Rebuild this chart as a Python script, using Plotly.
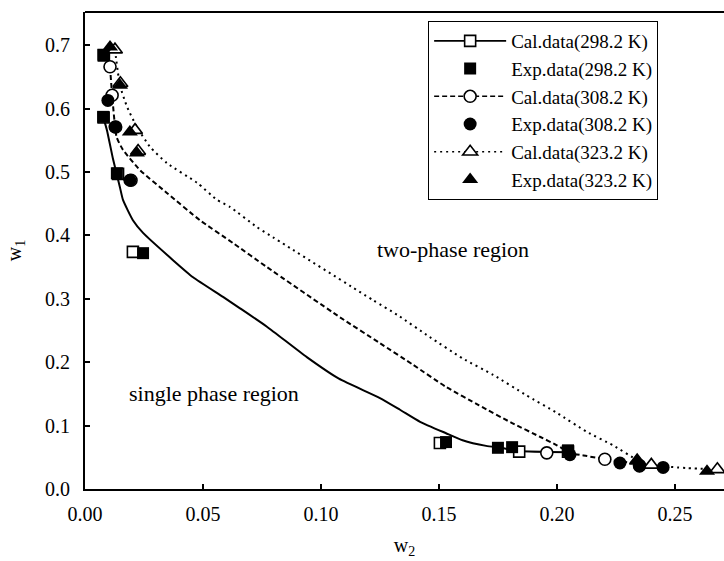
import plotly.graph_objects as go

# ---- data ----
# calculated curves (w2, w1)
cal298_x = [0.0077, 0.0093, 0.0119, 0.0148, 0.0161, 0.0203, 0.0246, 0.0373, 0.0458, 0.0585, 0.0657, 0.0771, 0.094, 0.1076, 0.125, 0.1335, 0.142, 0.153, 0.160, 0.170, 0.176, 0.184, 0.205]
cal298_y = [0.587, 0.566, 0.520, 0.476, 0.456, 0.424, 0.404, 0.361, 0.334, 0.303, 0.285, 0.256, 0.208, 0.174, 0.1435, 0.125, 0.106, 0.088, 0.077, 0.068, 0.065, 0.060, 0.058]
cal308_x = [0.0106, 0.0115, 0.0134, 0.0161, 0.0233, 0.0347, 0.0487, 0.0627, 0.0771, 0.108, 0.125, 0.139, 0.153, 0.167, 0.181, 0.193, 0.200, 0.2055, 0.2127, 0.2203, 0.234, 0.245]
cal308_y = [0.666, 0.621, 0.555, 0.535, 0.503, 0.467, 0.424, 0.388, 0.350, 0.271, 0.230, 0.196, 0.161, 0.132, 0.104, 0.082, 0.069, 0.057, 0.052, 0.047, 0.040, 0.035]
cal323_x = [0.0127, 0.0148, 0.0178, 0.022, 0.0275, 0.0347, 0.0475, 0.056, 0.0614, 0.0729, 0.0797, 0.122, 0.1326, 0.146, 0.160, 0.173, 0.187, 0.200, 0.2127, 0.2237, 0.234, 0.240, 0.255, 0.268]
cal323_y = [0.693, 0.637, 0.603, 0.571, 0.540, 0.514, 0.483, 0.456, 0.445, 0.413, 0.397, 0.298, 0.274, 0.240, 0.206, 0.180, 0.148, 0.120, 0.090, 0.069, 0.046, 0.038, 0.033, 0.031]

# calculated points (open markers)
calpt298_x = [0.0080, 0.0079, 0.0140, 0.0203, 0.1504, 0.184, 0.2047]
calpt298_y = [0.684, 0.586, 0.497, 0.374, 0.0726, 0.059, 0.059]
calpt308_x = [0.0106, 0.0115, 0.0130, 0.0195, 0.1957, 0.2203, 0.2350]
calpt308_y = [0.666, 0.621, 0.571, 0.487, 0.057, 0.047, 0.037]
calpt323_x = [0.0127, 0.0150, 0.0212, 0.0225, 0.2340, 0.2400, 0.2680]
calpt323_y = [0.693, 0.640, 0.566, 0.533, 0.045, 0.038, 0.031]

# experimental points (filled markers)
exp298_x = [0.0078, 0.0077, 0.0135, 0.0246, 0.153, 0.175, 0.181, 0.2047]
exp298_y = [0.685, 0.587, 0.498, 0.372, 0.074, 0.065, 0.066, 0.061]
exp308_x = [0.0097, 0.0127, 0.0190, 0.2055, 0.2267, 0.235, 0.245]
exp308_y = [0.613, 0.571, 0.487, 0.054, 0.041, 0.036, 0.034]
exp323_x = [0.0106, 0.0148, 0.0190, 0.0220, 0.2340, 0.2636]
exp323_y = [0.697, 0.637, 0.563, 0.530, 0.044, 0.028]

labels = ["Cal.data(298.2 K)", "Exp.data(298.2 K)", "Cal.data(308.2 K)",
          "Exp.data(308.2 K)", "Cal.data(323.2 K)", "Exp.data(323.2 K)"]

FONT = "Liberation Serif, Times New Roman, serif"
DASH298 = "solid"
DASH308 = "5px,3px"
DASH323 = "2px,4px"

fig = go.Figure()

def curve(x, y, dash):
    fig.add_trace(go.Scatter(x=x, y=y, mode="lines", showlegend=False,
                             line=dict(color="black", width=2, dash=dash,
                                       shape="spline", smoothing=0.5),
                             hoverinfo="skip"))

def openpts(x, y, sym, size):
    fig.add_trace(go.Scatter(x=x, y=y, mode="markers", showlegend=False,
                             marker=dict(symbol=sym, size=size, color="white",
                                         line=dict(color="black", width=1.6))))

def legend_cal(name, sym, size, dash):
    fig.add_trace(go.Scatter(x=[None], y=[None], mode="lines+markers", name=name,
                             line=dict(color="black", width=1.6, dash=dash),
                             marker=dict(symbol=sym, size=size, color="white",
                                         line=dict(color="black", width=1.6))))

def exppts(x, y, sym, size, name):
    fig.add_trace(go.Scatter(x=x, y=y, mode="markers", name=name,
                             marker=dict(symbol=sym, size=size, color="black",
                                         line=dict(color="black", width=0))))

# curves and open markers (no legend)
curve(cal298_x, cal298_y, DASH298)
curve(cal308_x, cal308_y, DASH308)
curve(cal323_x, cal323_y, DASH323)
openpts(calpt298_x, calpt298_y, "square", 11)
openpts(calpt308_x, calpt308_y, "circle", 12)
openpts(calpt323_x, calpt323_y, "triangle-up", 13)

# legend entries in order
legend_cal(labels[0], "square", 11, DASH298)
exppts(exp298_x, exp298_y, "square", 12, labels[1])
legend_cal(labels[2], "circle", 12, DASH308)
exppts(exp308_x, exp308_y, "circle", 13, labels[3])
legend_cal(labels[4], "triangle-up", 13, DASH323)
exppts(exp323_x, exp323_y, "triangle-up", 14, labels[5])

fig.add_annotation(x=0.156, y=0.377, text="two-phase region", showarrow=False,
                   font=dict(family=FONT, size=22, color="black"))
fig.add_annotation(x=0.0547, y=0.151, text="single phase region", showarrow=False,
                   font=dict(family=FONT, size=22, color="black"))

# top frame line
fig.add_shape(type="line", xref="paper", yref="paper", x0=0, x1=1, y0=1, y1=1,
              line=dict(color="black", width=2))

fig.update_layout(
    width=724, height=561,
    margin=dict(l=85, r=0, t=12, b=72),
    paper_bgcolor="white", plot_bgcolor="white",
    font=dict(family=FONT, size=20, color="black"),
    showlegend=True,
    legend=dict(x=0.537, y=0.981, xanchor="left", yanchor="top",
                bgcolor="white", bordercolor="black", borderwidth=1,
                font=dict(family=FONT, size=19, color="black"),
                itemwidth=72, traceorder="normal", tracegroupgap=0),
    xaxis=dict(range=[0, 0.2708], dtick=0.05, tick0=0, tickformat=".2f",
               showgrid=False, zeroline=False, showline=True, linecolor="black",
               linewidth=2, ticks="inside", ticklen=5, tickwidth=1.5,
               tickcolor="black", ticklabelstandoff=6,
               title=dict(text="w<sub>2</sub>", standoff=14,
                          font=dict(family=FONT, size=20))),
    yaxis=dict(range=[0, 0.7524], dtick=0.1, tick0=0, tickformat=".1f",
               showgrid=False, zeroline=False, showline=True, linecolor="black",
               linewidth=2, ticks="inside", ticklen=5, tickwidth=1.5,
               tickcolor="black", ticklabelstandoff=9,
               title=dict(text="w<sub>1</sub>", standoff=18,
                          font=dict(family=FONT, size=20))),
)

fig.write_html("out.html", config={"displayModeBar": False},
               post_script="document.body.style.margin='0';")
